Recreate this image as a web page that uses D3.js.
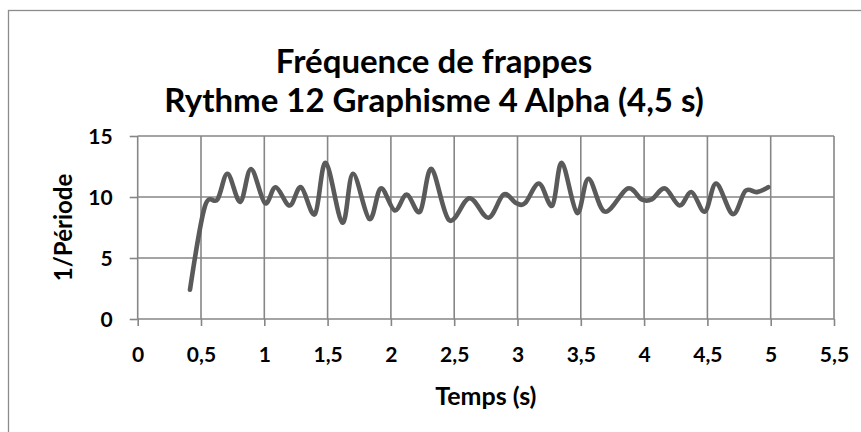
<!DOCTYPE html>
<html>
<head>
<meta charset="utf-8">
<script src="https://cdn.jsdelivr.net/npm/d3@7"></script>
<style>
  body { margin: 0; background: #fff; }
  text { font-family: Lato, "Open Sans", sans-serif; font-weight: bold; fill: #000; }
</style>
</head>
<body>
<div id="chart"></div>
<script>
/**
 * Data
 */
const times = [0.413, 0.53, 0.63, 0.71, 0.81, 0.895, 1.005, 1.09, 1.2, 1.29,
  1.4, 1.485, 1.617, 1.7, 1.83, 1.92, 2.03, 2.125, 2.23, 2.32,
  2.46, 2.62, 2.77, 2.89, 2.99, 3.06, 3.17, 3.275, 3.35, 3.47,
  3.56, 3.69, 3.87, 3.98, 4.06, 4.165, 4.28, 4.375, 4.48, 4.57,
  4.7, 4.8, 4.89, 4.98];
const frequencies = [2.4, 9.2, 9.8, 11.9, 9.6, 12.3, 9.5, 10.8, 9.3, 10.8,
  8.6, 12.8, 7.9, 11.9, 8.2, 10.7, 8.9, 10.2, 8.8, 12.3,
  8.1, 9.9, 8.3, 10.2, 9.5, 9.5, 11.1, 9.3, 12.8, 8.7,
  11.5, 8.8, 10.7, 9.8, 9.8, 10.7, 9.3, 10.4, 8.8, 11.1,
  8.6, 10.5, 10.4, 10.8];
const xTicks = [0, 0.5, 1, 1.5, 2, 2.5, 3, 3.5, 4, 4.5, 5, 5.5];
const yTicks = [0, 5, 10, 15];
const titleLines = ["Fréquence de frappes", "Rythme 12 Graphisme 4 Alpha (4,5 s)"];

/**
 * Basic Settings
 */
const width = 861;
const height = 432;
const plot = { left: 137.7, right: 834, top: 136, bottom: 319 };
const gridColor = "#868686";

const svg = d3.select("#chart")
  .append("svg")
  .attr("width", width)
  .attr("height", height);

svg.append("rect")
  .attr("x", 8.5).attr("y", 10.5)
  .attr("width", 860).attr("height", 430)
  .attr("fill", "#fff")
  .attr("stroke", "#8c8c8c")
  .attr("stroke-width", 1.3);

const x = d3.scaleLinear().domain([0, 5.5]).range([plot.left, plot.right]);
const y = d3.scaleLinear().domain([0, 15]).range([plot.bottom, plot.top]);

const commaFmt = d => String(d).replace(".", ",");

// gridlines
svg.append("g")
  .selectAll("line")
  .data(xTicks.slice(1))
  .join("line")
  .attr("x1", d => x(d)).attr("x2", d => x(d))
  .attr("y1", plot.top).attr("y2", plot.bottom)
  .attr("stroke", gridColor).attr("stroke-width", 1.6);

svg.append("g")
  .selectAll("line")
  .data(yTicks.slice(1))
  .join("line")
  .attr("x1", plot.left).attr("x2", plot.right)
  .attr("y1", d => y(d)).attr("y2", d => y(d))
  .attr("stroke", gridColor).attr("stroke-width", 1.6);

// axes
const xAxis = svg.append("g")
  .attr("transform", `translate(0,${plot.bottom})`)
  .call(d3.axisBottom(x).tickValues(xTicks).tickFormat(commaFmt).tickSize(7).tickPadding(21));

const yAxis = svg.append("g")
  .attr("transform", `translate(${plot.left},0)`)
  .call(d3.axisLeft(y).tickValues(yTicks).tickSize(8).tickPadding(17));

[xAxis, yAxis].forEach(g => {
  g.select(".domain").attr("stroke", gridColor).attr("stroke-width", 1.6);
  g.selectAll(".tick line").attr("stroke", gridColor).attr("stroke-width", 1.6);
  g.selectAll(".tick text")
    .attr("font-family", "Lato, sans-serif")
    .attr("font-weight", "bold")
    .attr("font-size", 21)
    .attr("fill", "#000");
});
xAxis.select(".domain").attr("d", `M${plot.left},0H${plot.right}`);
yAxis.select(".domain").attr("d", `M0,${plot.bottom}V${plot.top}`);
yAxis.selectAll(".tick text").attr("dy", "0.36em");

// line
const line = d3.line()
  .x(d => x(d[0]))
  .y(d => y(d[1]))
  .curve(d3.curveCardinal.tension(0));

svg.append("path")
  .datum(d3.zip(times, frequencies))
  .attr("d", line)
  .attr("fill", "none")
  .attr("stroke", "#5a5a5a")
  .attr("stroke-width", 4.6)
  .attr("stroke-linecap", "round")
  .attr("stroke-linejoin", "round");

// titles
svg.append("g")
  .selectAll("text")
  .data(titleLines)
  .join("text")
  .attr("x", 434)
  .attr("y", (d, i) => 73 + i * 39)
  .attr("text-anchor", "middle")
  .attr("font-size", 33)
  .text(d => d);

svg.append("text")
  .attr("x", (plot.left + plot.right) / 2)
  .attr("y", 405)
  .attr("text-anchor", "middle")
  .attr("font-size", 25)
  .text("Temps (s)");

svg.append("text")
  .attr("transform", `translate(72,${(plot.top + plot.bottom) / 2}) rotate(-90)`)
  .attr("text-anchor", "middle")
  .attr("font-size", 24)
  .text("1/Période");
</script>
</body>
</html>
